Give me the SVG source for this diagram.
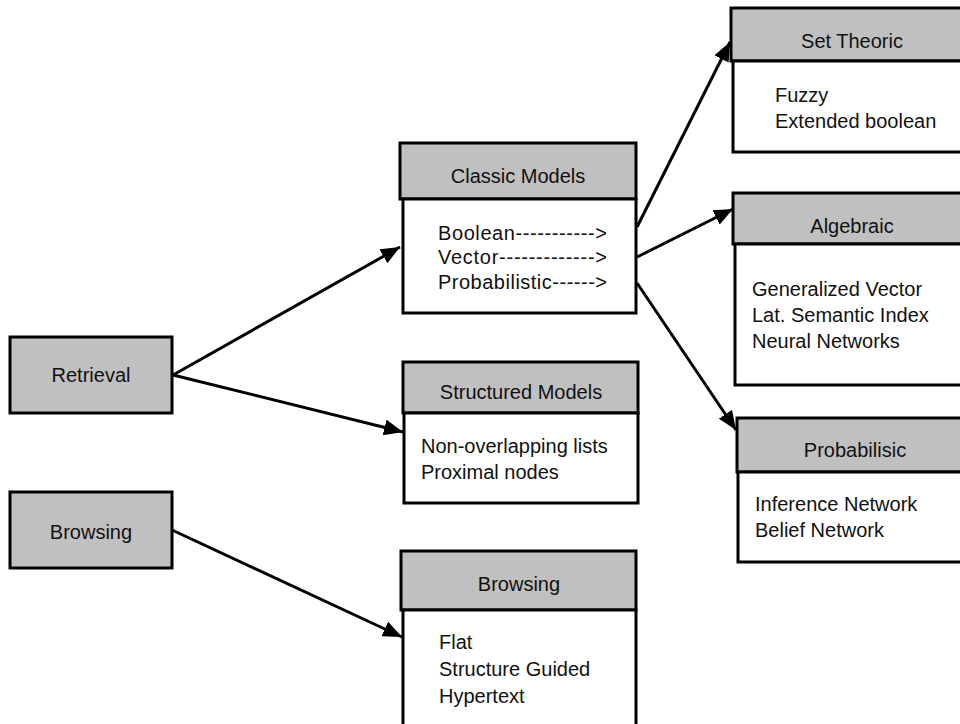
<svg xmlns="http://www.w3.org/2000/svg" width="960" height="724" viewBox="0 0 960 724">
  <style>
    .box { stroke: #000; stroke-width: 3; }
    .head { fill: #c0c0c0; }
    .body { fill: #fff; }
    text { font-family: "Liberation Sans", Arial, sans-serif; font-size: 20px; fill: #111; }
    .c { text-anchor: middle; }
    .edge { stroke: #000; stroke-width: 3; fill: none; marker-end: url(#arrow); }
  </style>
  <defs>
    <marker id="arrow" markerUnits="userSpaceOnUse" markerWidth="20" markerHeight="16" refX="19" refY="8" orient="auto">
      <path d="M0,0 L19,8 L0,16 z" fill="#000"/>
    </marker>
  </defs>

  <rect width="960" height="724" fill="#fff"/>

  <!-- connectors -->
  <g id="connectors">
    <line class="edge" x1="173" y1="375" x2="400" y2="247"/>
    <line class="edge" x1="173" y1="375" x2="403" y2="432"/>
    <line class="edge" x1="172" y1="530" x2="402" y2="637"/>
    <line class="edge" x1="637" y1="227" x2="730" y2="42"/>
    <line class="edge" x1="637" y1="257" x2="733" y2="209"/>
    <line class="edge" x1="637" y1="283" x2="736" y2="430"/>
  </g>

  <!-- left column -->
  <g id="retrieval">
    <rect class="box head" x="10" y="337" width="162" height="76"/>
    <text class="c" x="91" y="382">Retrieval</text>
  </g>
  <g id="browsing-entry">
    <rect class="box head" x="10" y="492" width="162" height="76"/>
    <text class="c" x="91" y="539">Browsing</text>
  </g>

  <!-- middle column -->
  <g id="classic-models">
    <rect class="box head" x="400" y="143" width="236" height="56"/>
    <rect class="box body" x="403" y="199" width="233" height="114"/>
    <text class="c" x="518" y="183">Classic Models</text>
    <text x="438" y="240" textLength="169" lengthAdjust="spacing">Boolean-----------&gt;</text>
    <text x="438" y="264" textLength="169" lengthAdjust="spacing">Vector-------------&gt;</text>
    <text x="438" y="289" textLength="169" lengthAdjust="spacing">Probabilistic------&gt;</text>
  </g>
  <g id="structured-models">
    <rect class="box head" x="403" y="362" width="235" height="51"/>
    <rect class="box body" x="404" y="413" width="234" height="90"/>
    <text class="c" x="521" y="399">Structured Models</text>
    <text x="421" y="453">Non-overlapping lists</text>
    <text x="421" y="479">Proximal nodes</text>
  </g>
  <g id="browsing">
    <rect class="box head" x="401" y="551" width="235" height="59"/>
    <rect class="box body" x="403" y="610" width="233" height="140"/>
    <text class="c" x="519" y="591">Browsing</text>
    <text x="439" y="649">Flat</text>
    <text x="439" y="676">Structure Guided</text>
    <text x="439" y="703">Hypertext</text>
  </g>

  <!-- right column -->
  <g id="set-theoric">
    <rect class="box head" x="731" y="8" width="242" height="53"/>
    <rect class="box body" x="733" y="61" width="240" height="91"/>
    <text class="c" x="852" y="48">Set Theoric</text>
    <text x="775" y="102">Fuzzy</text>
    <text x="775" y="128">Extended boolean</text>
  </g>
  <g id="algebraic">
    <rect class="box head" x="733" y="193" width="240" height="51"/>
    <rect class="box body" x="735" y="244" width="238" height="141"/>
    <text class="c" x="852" y="233">Algebraic</text>
    <text x="752" y="296">Generalized Vector</text>
    <text x="752" y="322">Lat. Semantic Index</text>
    <text x="752" y="348">Neural Networks</text>
  </g>
  <g id="probabilistic">
    <rect class="box head" x="737" y="418" width="240" height="54"/>
    <rect class="box body" x="738" y="472" width="239" height="90"/>
    <text class="c" x="855" y="457">Probabilisic</text>
    <text x="755" y="511">Inference Network</text>
    <text x="755" y="537">Belief Network</text>
  </g>
</svg>
